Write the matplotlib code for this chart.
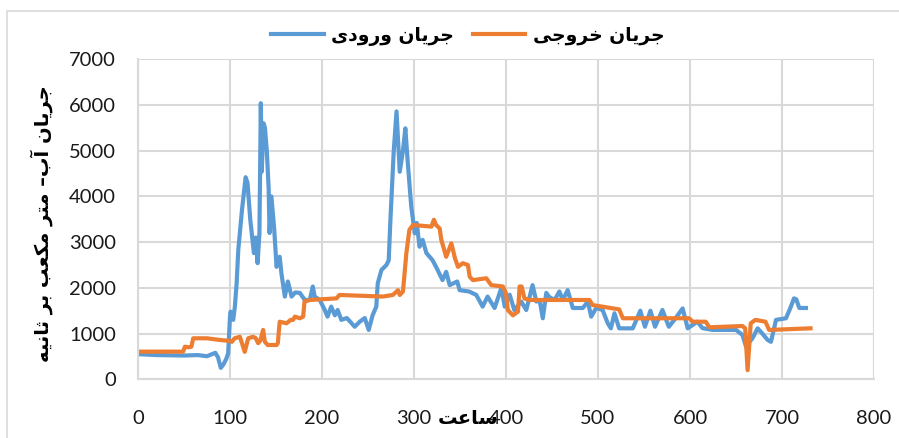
import matplotlib.pyplot as plt
from matplotlib.patches import Rectangle

# inflow (blue) - hour, m3/s
in_hours = [0, 20, 50, 65, 75, 84, 87, 90, 93, 96, 98, 100, 100.6, 103.5, 105.3, 107.2, 109,
            113, 117, 119, 122, 126, 128, 130, 132, 133.5, 134.5, 136.5, 138, 140, 142, 143,
            145, 148, 150.6, 154, 156, 159.6, 162.9, 166.9, 171, 175.9, 181.3, 186.7, 190,
            192, 197.6, 203, 206, 210, 214, 217, 221, 227, 235.6, 241, 246.5, 250.8, 255,
            259, 260.6, 264.6, 270, 272.5, 274.4, 278, 281, 284.5, 288, 290.6, 293, 297,
            300.8, 303, 306, 309.4, 313.5, 320, 324, 331, 335, 338.8, 347, 349.6, 360, 367.7,
            374.6, 380, 387.6, 395, 398.6, 404, 409, 416.6, 422, 425.6, 428.9, 433, 436.5,
            440, 443.8, 447, 452.8, 458, 461.8, 467, 472.6, 483.5, 489, 492.6, 498, 505,
            510.6, 514, 517.9, 523, 537.8, 546, 551, 557, 562, 570, 577, 583, 592, 597.5,
            608, 613.5, 624.5, 650, 657, 661, 664, 668, 673.5, 678.6, 684.4, 688, 693.5,
            704.3, 709.7, 713, 715.5, 718.8, 726]
in_flow = [550, 530, 520, 530, 505, 580, 480, 250, 330, 450, 570, 1370, 1480, 1300, 1590, 2100, 2830,
           3700, 4420, 4300, 3500, 2760, 3100, 2540, 3200, 6040, 4540, 5600, 5500, 5000, 4180, 3200,
           4000, 3300, 2460, 2680, 2300, 1810, 2140, 1810, 1900, 1890, 1735, 1735, 2030,
           1810, 1735, 1516, 1370, 1590, 1400, 1516, 1300, 1340, 1150, 1260, 1340, 1080, 1400,
           1590, 2100, 2390, 2500, 2600, 3500, 5000, 5860, 4540, 5000, 5490, 4800, 3780,
           3195, 3420, 2900, 3050, 2760, 2610, 2460, 2170, 2350, 2060, 2140, 1950, 1920, 1845,
           1590, 1810, 1560, 2000, 1590, 1850, 1516, 1700, 1516, 1800, 2060, 1700, 1735,
           1335, 1890, 1800, 1735, 1920, 1735, 1950, 1560, 1560, 1700, 1370, 1560, 1516,
           1225, 1115, 1445, 1115, 1115, 1500, 1150, 1500, 1150, 1516, 1150, 1300, 1550, 1115,
           1260, 1120, 1080, 1080, 970, 710, 800, 900, 1115, 1000, 860, 820, 1300,
           1335, 1590, 1770, 1750, 1560, 1560]

# outflow (orange)
out_hours = [0, 49, 51, 55, 58, 60, 75, 89, 100, 102, 105, 110.7, 113, 116, 119.8, 125, 128,
             130.6, 133, 136, 137.9, 141, 150.6, 152, 154, 161.5, 166, 168.6, 170.5, 176,
             179.5, 181, 186.8, 215.7, 219, 266, 277, 282.6, 284.5, 288, 291.7, 295, 298.9,
             319, 321.6, 324, 327.9, 329.7, 335, 340.6, 344.5, 347.8, 353, 358.6, 360.5, 364,
             378.6, 384, 396.6, 400, 402, 407.5, 413, 414.8, 417, 420, 425, 490.8, 494, 509,
             523, 527, 599, 603, 617, 621, 657, 660, 662.6, 666, 671, 682, 686, 731]
out_flow = [605, 605, 713, 700, 713, 897, 897, 860, 840, 820, 897, 930, 790, 600, 897, 930, 900,
            790, 850, 1080, 820, 750, 750, 790, 1260, 1225, 1300, 1300, 1370, 1335,
            1370, 1700, 1735, 1770, 1845, 1810, 1845, 1950, 1845, 1920, 2760, 3270, 3375,
            3340, 3490, 3375, 3300, 3050, 2680, 2975, 2650, 2460, 2540, 2500, 2245, 2170,
            2210, 2060, 2030, 1880, 1516, 1400, 1480, 2030, 2030, 1770, 1735, 1735, 1625, 1575,
            1530, 1335, 1335, 1260, 1260, 1138, 1165, 1115, 200, 1225, 1300, 1260, 1080, 1115]

# persian labels, pre-shaped in visual (left to right) order
lbl_in = "\u06CC\u062F\u0648\u0631\u0648 \u0646\uFE8E\uFEF3\uFEAE\uFE9F"       # jaryan vorudi
lbl_out = "\uFEF0\uFE9F\u0648\uFEAE\uFEA7 \u0646\uFE8E\uFEF3\uFEAE\uFE9F"      # jaryan khoruji
ylab = ("\uFEEA\uFEF4\uFEE7\uFE8E\uFE9B \uFEAE\uFE91 \uFE90\uFECC\uFB91\uFEE3 "
        "\uFEAE\uFE98\uFEE3 \u2013\u0628\u0622 \u0646\uFE8E\uFEF3\uFEAE\uFE9F")
xlab = "\uFE96\uFECB\uFE8E\uFEB3"

grid_c = '#d9d9d9'

fig = plt.figure(figsize=(8.99, 4.38), dpi=100)
ax = fig.add_axes([138 / 899, 1 - 379.3 / 438, 736 / 899, 320 / 438])

ax.plot(in_hours, in_flow, color='#5b9bd5', lw=3, solid_joinstyle='round', label=lbl_in)
ax.plot(out_hours, out_flow, color='#ed7d31', lw=3, solid_joinstyle='round', label=lbl_out)

ax.set_xlim(0, 800)
ax.set_ylim(0, 7000)
ax.set_xticks(range(0, 801, 100))
ax.set_yticks(range(0, 7001, 1000))
ax.grid(True, color=grid_c, lw=1.5)
ax.set_axisbelow(True)
for s in ['top', 'right']:
    ax.spines[s].set_visible(False)
for s in ['left', 'bottom']:
    ax.spines[s].set_color(grid_c)
    ax.spines[s].set_linewidth(1.5)
ax.tick_params(length=0, labelsize=14.5, labelcolor='#1a1a1a')
ax.tick_params(axis='x', pad=22)
ax.tick_params(axis='y', pad=16)
for t in ax.get_xticklabels() + ax.get_yticklabels():
    t.set_fontfamily('Lato')

fig.text(42 / 899, 1 - 224 / 438, ylab, rotation=90, ha='center', va='center',
         fontsize=14, fontweight='bold', family='DejaVu Sans')
fig.text(468 / 899, 1 - 419 / 438, xlab, ha='center', va='center',
         fontsize=14, fontweight='bold', family='DejaVu Sans')

fig.legend(loc='center', bbox_to_anchor=(468 / 899, 1 - 36 / 438), ncol=2, frameon=False,
           prop={'family': 'DejaVu Sans', 'weight': 'bold', 'size': 13.5},
           handlelength=2.8, handletextpad=0.4, columnspacing=1.0)

fig.patches.append(Rectangle((7 / 899, -0.1), 1.2, 1.1 - 11 / 438, transform=fig.transFigure,
                             fill=False, edgecolor=grid_c, lw=1.2))

fig.savefig('out.png', dpi=100)
